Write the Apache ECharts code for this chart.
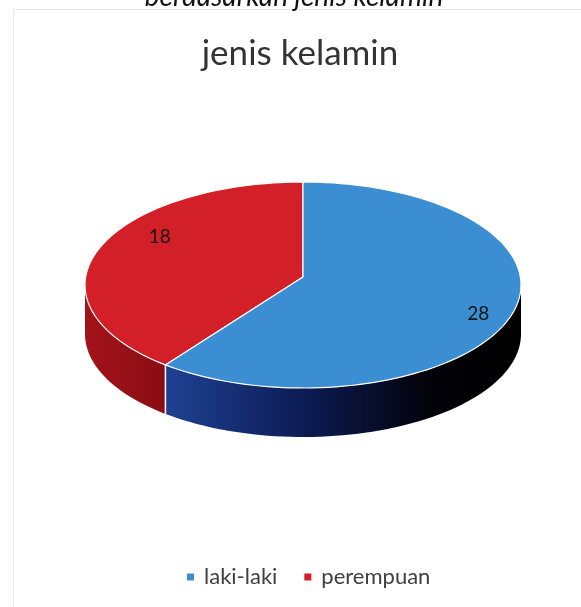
<!DOCTYPE html>
<html>
<head>
<meta charset="utf-8">
<script src="https://cdn.jsdelivr.net/npm/echarts@6/dist/echarts.min.js"></script>
<style>
html,body{margin:0;padding:0;background:#fff;}
#chart{width:581px;height:607px;}
</style>
</head>
<body>
<div id="chart"></div>
<script>
// ---- data ----
const categories = ['laki-laki', 'perempuan'];
const values = [28, 18];
const chartTitle = 'jenis kelamin';
const pageHeading = 'berdasarkan jenis kelamin';

// ---- style ----
const topColors = ['#3b8ed1', '#d31f28'];
const sideColors = [
  [[0, '#1f4193'], [0.4, '#0c1a52'], [0.75, '#020208'], [1, '#000000']],
  [[0, '#a3121a'], [1, '#8a0d14']]
];
const labelOffsets = [[11, 1], [21, -21]];
const geom = { cx: 303, cy: 285, rx: 218, ry: 103, depth: 49, startDeg: 90, apexDy: -8 };

const total = values.reduce((a, b) => a + b, 0);
function ranges() {
  // red (index 1) starts at 12 o'clock going counter-clockwise, blue continues
  const out = [];
  let a = geom.startDeg;
  [1, 0].forEach(i => {
    const sweep = values[i] / total * 360;
    out[i] = [a, a + sweep];
    a += sweep;
  });
  return out;
}
function pt(deg, dy) {
  const r = deg * Math.PI / 180;
  return [geom.cx + geom.rx * Math.cos(r), geom.cy - geom.ry * Math.sin(r) + (dy || 0)];
}
function arcPts(a0, a1, dy) {
  const pts = [];
  const n = Math.max(8, Math.ceil(Math.abs(a1 - a0) / 2));
  for (let k = 0; k <= n; k++) pts.push(pt(a0 + (a1 - a0) * k / n, dy));
  return pts;
}

function makeRender(idx) {
  return function (params, api) {
    const rg = ranges()[idx];
    const children = [];
    const segs = [];
    [[180, 360], [540, 720]].forEach(w => {
      const s = Math.max(rg[0], w[0]), e = Math.min(rg[1], w[1]);
      if (e > s) segs.push([s, e]);
    });
    segs.forEach(sg => {
      const topP = arcPts(sg[0], sg[1], 0);
      const botP = arcPts(sg[1], sg[0], geom.depth);
      const pts = topP.concat(botP);
      const xs = pts.map(p => p[0]);
      const x0 = Math.min(...xs), x1 = Math.max(...xs);
      children.push({
        type: 'polygon',
        shape: { points: pts },
        style: {
          fill: new echarts.graphic.LinearGradient(x0, 0, x1, 0,
            sideColors[idx].map(s => ({ offset: s[0], color: s[1] })), true),
          stroke: null
        }
      });
      if (sg[0] === rg[0]) {
        const p = pt(sg[0], 0);
        children.push({ type: 'line', shape: { x1: p[0], y1: p[1], x2: p[0], y2: p[1] + geom.depth },
          style: { stroke: '#ffffff', lineWidth: 1.5 } });
      }
    });
    const topPts = [[geom.cx, geom.cy + geom.apexDy]].concat(arcPts(rg[0], rg[1], 0));
    children.push({
      type: 'polygon',
      shape: { points: topPts },
      style: { fill: topColors[idx], stroke: '#ffffff', lineWidth: 1.2, lineJoin: 'round' }
    });
    const mid = (rg[0] + rg[1]) / 2;
    const lp = pt(mid, 0);
    const lx = geom.cx + (lp[0] - geom.cx) * 0.8 + labelOffsets[idx][0];
    const ly = geom.cy + (lp[1] - geom.cy) * 0.8 + labelOffsets[idx][1];
    children.push({
      type: 'text',
      style: { text: String(values[idx]), x: lx, y: ly, align: 'center', verticalAlign: 'middle',
        fill: '#141414', font: '19px Lato, "Open Sans", sans-serif' }
    });
    return { type: 'group', children };
  };
}

const chart = echarts.init(document.getElementById('chart'));
chart.setOption({
  backgroundColor: '#ffffff',
  animation: false,
  graphic: [
    { type: 'rect', shape: { x: 13.5, y: 9.5, width: 620, height: 620 },
      style: { fill: null, stroke: '#e8e8e8', lineWidth: 1 }, z: -1 },
    { type: 'text', style: { text: pageHeading, x: 294, y: -3, align: 'center', verticalAlign: 'middle',
        fill: '#111111', font: 'italic 28px Lato, "Open Sans", sans-serif' } },
    { type: 'text', style: { text: chartTitle, x: 300, y: 54, align: 'center', verticalAlign: 'middle',
        fill: '#333333', font: '35px Lato, "Open Sans", sans-serif' } }
  ],
  legend: {
    data: categories,
    left: 182, top: 561,
    icon: 'rect', itemWidth: 7, itemHeight: 7, itemGap: 27,
    textStyle: { color: '#404040', fontSize: 22, fontFamily: 'Lato, "Open Sans", sans-serif', padding: [0, 0, 0, 5] }
  },
  series: categories.map((c, i) => ({
    type: 'custom',
    name: c,
    coordinateSystem: 'none',
    itemStyle: { color: topColors[i] },
    renderItem: makeRender(i),
    data: [values[i]],
    z: i === 1 ? 2 : 3
  }))
});
</script>
</body>
</html>
